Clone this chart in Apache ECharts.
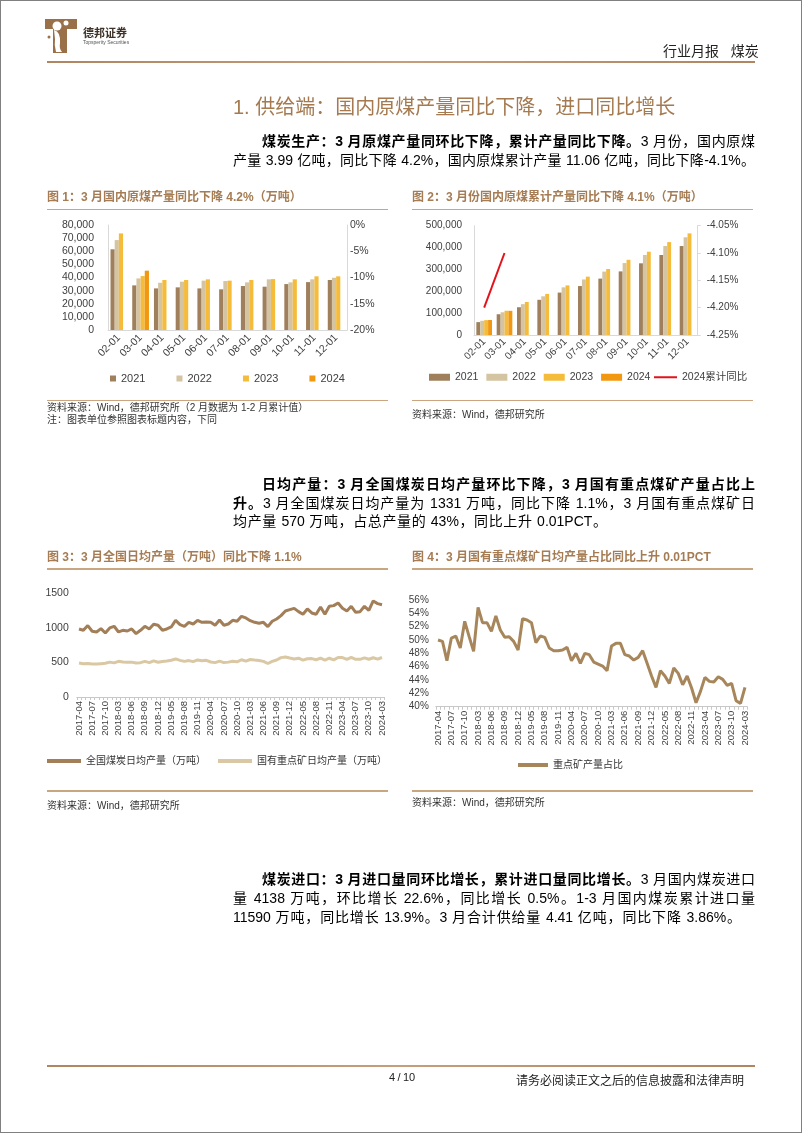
<!DOCTYPE html>
<html><head><meta charset="utf-8">
<script src="https://cdn.jsdelivr.net/npm/echarts@6/dist/echarts.min.js"></script>
<style>
html,body{margin:0;padding:0;background:#fff;}
body{width:802px;height:1133px;position:relative;overflow:hidden;font-family:"Liberation Sans","Noto Sans CJK SC",sans-serif;color:#000;}
#frame{position:absolute;left:0;top:0;width:800px;height:1131px;border:1px solid #808080;}
#chart{position:absolute;left:0;top:0;width:802px;height:1133px;}
.t{position:absolute;white-space:nowrap;}
.hl{position:absolute;height:2.5px;background:linear-gradient(90deg,#B08561,#C59F7C 50%,#B08561);}
.sep{position:absolute;height:1.5px;background:#C9A580;}
.ct{position:absolute;white-space:nowrap;font-size:12px;font-weight:bold;color:#A57C53;line-height:14px;}
.src{position:absolute;white-space:nowrap;font-size:10px;color:#333;line-height:12px;}
.p{position:absolute;font-size:14px;line-height:19px;height:19px;overflow:visible;text-align:justify;text-align-last:justify;white-space:normal;}
</style></head>
<body>
<div id="frame"></div>
<div id="chart"></div>

<svg class="t" style="left:44px;top:17px" width="34" height="37" viewBox="0 0 34 37">
  <path d="M1 2 H33 V12 H23 V36 H9 V12 H1 Z" fill="#9A7049"/>
  <circle cx="13" cy="9" r="4.5" fill="#fff"/>
  <path d="M10 13 Q17 15 16 26 Q15 32 18 35 L12 35 Q10 28 11 22 Z" fill="#fff"/>
  <circle cx="5" cy="20" r="1.5" fill="#9A7049"/>
  <circle cx="22" cy="6" r="2.5" fill="#fff"/>
</svg>
<div class="t" style="left:83px;top:24px;font-size:11px;font-weight:bold;color:#3d3128;">德邦证券</div>
<div class="t" style="left:83px;top:39px;font-size:5px;color:#555;">Topsperity Securities</div>
<div class="t" style="left:663px;top:40px;font-size:14px;color:#222;">行业月报&nbsp;&nbsp;&nbsp;煤炭</div>
<div class="hl" style="left:47px;top:60.5px;width:708px;"></div>

<div class="t" style="left:233px;top:95px;font-size:20px;color:#A57A50;line-height:24px;">1. 供给端：国内原煤产量同比下降，进口同比增长</div>

<div class="p" style="left:262px;top:131.5px;width:493px;"><b>煤炭生产：3 月原煤产量同环比下降，累计产量同比下降。</b>3 月份，国内原煤</div>
<div class="p" style="left:233px;top:150.5px;width:522px;">产量 3.99 亿吨，同比下降 4.2%，国内原煤累计产量 11.06 亿吨，同比下降-4.1%。</div>

<div class="ct" style="left:47px;top:190px;">图 1：3 月国内原煤产量同比下降 4.2%（万吨）</div>
<div class="sep" style="left:47px;top:208.5px;width:341px;"></div>
<div class="ct" style="left:412px;top:190px;">图 2：3 月份国内原煤累计产量同比下降 4.1%（万吨）</div>
<div class="sep" style="left:412px;top:208.5px;width:341px;"></div>
<div class="sep" style="left:47px;top:399.5px;width:341px;"></div>
<div class="sep" style="left:412px;top:399.5px;width:341px;"></div>
<div class="src" style="left:47px;top:402px;">资料来源：Wind，德邦研究所（2 月数据为 1-2 月累计值）</div>
<div class="src" style="left:47px;top:414px;">注：图表单位参照图表标题内容，下同</div>
<div class="src" style="left:412px;top:409px;">资料来源：Wind，德邦研究所</div>

<div class="p" style="left:262px;top:474.5px;width:493px;"><b>日均产量：3 月全国煤炭日均产量环比下降，3 月国有重点煤矿产量占比上</b></div>
<div class="p" style="left:233px;top:493.5px;width:522px;"><b>升。</b>3 月全国煤炭日均产量为 1331 万吨，同比下降 1.1%，3 月国有重点煤矿日</div>
<div class="p" style="left:233px;top:512px;width:374px;">均产量 570 万吨，占总产量的 43%，同比上升 0.01PCT。</div>

<div class="ct" style="left:47px;top:550px;">图 3：3 月全国日均产量（万吨）同比下降 1.1%</div>
<div class="sep" style="left:47px;top:568px;width:341px;"></div>
<div class="ct" style="left:412px;top:550px;">图 4：3 月国有重点煤矿日均产量占比同比上升 0.01PCT</div>
<div class="sep" style="left:412px;top:568px;width:341px;"></div>
<div class="sep" style="left:47px;top:790px;width:341px;"></div>
<div class="sep" style="left:412px;top:790px;width:341px;"></div>
<div class="src" style="left:47px;top:800px;">资料来源：Wind，德邦研究所</div>
<div class="src" style="left:412px;top:797px;">资料来源：Wind，德邦研究所</div>

<div class="p" style="left:262px;top:869.5px;width:493px;"><b>煤炭进口：3 月进口量同环比增长，累计进口量同比增长。</b>3 月国内煤炭进口</div>
<div class="p" style="left:233px;top:888.5px;width:522px;">量 4138 万吨，环比增长 22.6%，同比增长 0.5%。1-3 月国内煤炭累计进口量</div>
<div class="p" style="left:233px;top:907.5px;width:508px;">11590 万吨，同比增长 13.9%。3 月合计供给量 4.41 亿吨，同比下降 3.86%。</div>

<div class="hl" style="left:47px;top:1064.5px;width:708px;"></div>
<div class="t" style="left:389px;top:1071px;font-size:11px;color:#222;letter-spacing:-0.3px;">4 / 10</div>
<div class="t" style="left:516px;top:1071px;font-size:12px;color:#222;">请务必阅读正文之后的信息披露和法律声明</div>

<script>
// ---------- data ----------
const months = ['02-01','03-01','04-01','05-01','06-01','07-01','08-01','09-01','10-01','11-01','12-01'];
const prod2021 = [61500, 34000, 31700, 32500, 31700, 31000, 33500, 33000, 35000, 36500, 38100];
const prod2022 = [68500, 39300, 36000, 36800, 37600, 37300, 36300, 38600, 36300, 38600, 39800];
const prod2023 = [73600, 41100, 38100, 38100, 38600, 37600, 38100, 38800, 38600, 40900, 40900];
const prod2024 = [null, 45200, null, null, null, null, null, null, null, null, null];

const cum2021 = [59000, 95000, 127000, 161000, 194000, 224000, 258000, 291000, 328000, 366000, 407000];
const cum2022 = [65000, 104000, 141000, 177000, 218000, 254000, 290000, 329000, 366000, 407000, 447000];
const cum2023 = [68000, 111000, 151000, 188000, 227000, 267000, 302000, 344000, 381000, 425000, 465000];
const cum2024 = [68500, 110600, null, null, null, null, null, null, null, null, null];
const cumYoy2024 = [-4.20, -4.10, null, null, null, null, null, null, null, null, null];

const dailyMonths = [
 '2017-04','2017-05','2017-06','2017-07','2017-08','2017-09','2017-10','2017-11','2017-12',
 '2018-03','2018-04','2018-05','2018-06','2018-07','2018-08','2018-09','2018-10','2018-11','2018-12',
 '2019-03','2019-04','2019-05','2019-06','2019-07','2019-08','2019-09','2019-10','2019-11','2019-12',
 '2020-03','2020-04','2020-05','2020-06','2020-07','2020-08','2020-09','2020-10','2020-11','2020-12',
 '2021-03','2021-04','2021-05','2021-06','2021-07','2021-08','2021-09','2021-10','2021-11','2021-12',
 '2022-03','2022-04','2022-05','2022-06','2022-07','2022-08','2022-09','2022-10','2022-11','2022-12',
 '2023-03','2023-04','2023-05','2023-06','2023-07','2023-08','2023-09','2023-10','2023-11','2023-12',
 '2024-03'];
const dailyNational = [
 981,962,1030,948,938,986,923,996,1020,
 938,962,952,981,914,962,1020,981,1049,1034,
 962,981,1010,1106,1044,1020,1077,1053,1106,1077,
 1082,1077,1034,1111,1034,1053,1106,1092,1164,1140,
 1101,1077,1063,1077,1015,1092,1125,1174,1241,1260,
 1279,1231,1193,1270,1212,1193,1299,1193,1308,1318,
 1356,1279,1241,1308,1222,1231,1308,1250,1385,1347,
 1331];
const dailyStateOwned = [
 491,479,483,476,475,481,487,503,492,
 515,506,501,503,490,495,514,495,522,501,
 511,520,531,549,528,514,525,510,535,522,
 529,505,496,517,496,503,516,507,537,518,
 541,533,526,514,483,513,533,568,577,562,
 549,559,532,552,554,537,562,532,559,535,
 570,568,543,571,544,543,564,544,566,546,
 570];
const stateShare = [
 50.0,49.8,46.9,50.3,50.6,48.8,52.8,50.5,48.3,
 54.9,52.6,52.6,51.3,53.6,51.5,50.4,50.5,49.8,48.5,
 53.2,53.0,52.6,49.6,50.6,50.4,48.8,48.4,48.4,48.5,
 48.9,46.9,48.0,46.5,48.0,47.8,46.7,46.4,46.1,45.4,
 49.1,49.5,49.5,47.8,47.6,47.0,47.4,48.4,46.5,44.6,
 42.9,45.4,44.6,43.5,45.8,45.0,43.3,44.6,42.8,40.6,
 42.3,44.4,43.8,43.7,44.5,44.1,43.2,43.5,40.9,40.5,
 42.9];

// ---------- styles ----------
const FONT = '"Liberation Sans","Noto Sans CJK SC",sans-serif';
const C21 = '#A0805C', C22 = '#D4C4A2', C23 = '#F5BC3C', C24 = '#F29710';
const LINE_RED = '#E3131B';
const NAT = '#A27F58', SOE = '#D9C8A3', SHARE = '#A8865B';
const AX = '#D9D9D9', LBL = '#404040';

function barSeries(name, data, color, xi, yi) {
  return {name, type:'bar', data, xAxisIndex:xi, yAxisIndex:yi, barGap:'0%', barCategoryGap:'23%',
    itemStyle:{color}};
}
const noSplit = {show:false};

const option = {
  animation:false,
  textStyle:{fontFamily:FONT},
  grid:[
    {left:108, top:225, width:239, height:105, outerBoundsMode:'none'},
    {left:474, top:225.7, width:223.7, height:109.3, outerBoundsMode:'none'},
    {left:76.8, top:593, width:307.4, height:104, outerBoundsMode:'none'},
    {left:435.8, top:600, width:311.4, height:106.7, outerBoundsMode:'none'}
  ],
  xAxis:[
    {gridIndex:0, type:'category', data:months, axisLine:{lineStyle:{color:AX}}, axisTick:{show:false},
     axisLabel:{rotate:45, interval:0, fontSize:10.5, color:LBL, margin:6}},
    {gridIndex:1, type:'category', data:months, axisLine:{lineStyle:{color:AX}}, axisTick:{show:false},
     axisLabel:{rotate:45, interval:0, fontSize:10, color:LBL, margin:5}},
    {gridIndex:2, type:'category', data:dailyMonths, boundaryGap:true, axisLine:{lineStyle:{color:'#C8C8C8'}},
     axisTick:{show:true, interval:0, length:3, lineStyle:{color:'#C8C8C8'}},
     axisLabel:{rotate:90, interval:2, fontSize:9.5, color:LBL, margin:4}},
    {gridIndex:3, type:'category', data:dailyMonths, boundaryGap:true, axisLine:{lineStyle:{color:'#C8C8C8'}},
     axisTick:{show:true, interval:0, length:3, lineStyle:{color:'#C8C8C8'}},
     axisLabel:{rotate:90, interval:2, fontSize:9.5, color:LBL, margin:4}}
  ],
  yAxis:[
    {gridIndex:0, type:'value', min:0, max:80000, interval:10000, splitLine:noSplit,
     axisLine:{show:true, lineStyle:{color:AX}}, axisTick:{show:false},
     axisLabel:{fontSize:10.5, color:LBL, margin:14, formatter:v=>v.toLocaleString('en-US')}},
    {gridIndex:0, type:'value', position:'right', min:-20, max:0, interval:5, splitLine:noSplit,
     axisLine:{show:true, lineStyle:{color:AX}}, axisTick:{show:false},
     axisLabel:{fontSize:10.5, color:LBL, margin:3, formatter:v=>v+'%'}},
    {gridIndex:1, type:'value', min:0, max:500000, interval:100000, splitLine:noSplit,
     axisLine:{show:true, lineStyle:{color:AX}}, axisTick:{show:false},
     axisLabel:{fontSize:10, color:LBL, margin:12, formatter:v=>v.toLocaleString('en-US')}},
    {gridIndex:1, type:'value', position:'right', min:-4.25, max:-4.05, interval:0.05, splitLine:noSplit,
     axisLine:{show:true, lineStyle:{color:AX}}, axisTick:{show:true, length:3, lineStyle:{color:AX}},
     axisLabel:{fontSize:10, color:LBL, margin:9, formatter:v=>v.toFixed(2)+'%'}},
    {gridIndex:2, type:'value', min:0, max:1500, interval:500, splitLine:noSplit,
     axisLine:{show:false}, axisTick:{show:false},
     axisLabel:{fontSize:10.5, color:LBL, margin:8, formatter:v=>String(v)}},
    {gridIndex:3, type:'value', min:40, max:56, interval:2, splitLine:noSplit,
     axisLine:{show:false}, axisTick:{show:false},
     axisLabel:{fontSize:10, color:LBL, margin:7, formatter:v=>v+'%'}}
  ],
  legend:[
    {data:['2021','2022','2023','2024'], left:110, top:373, padding:0, icon:'rect',
     itemWidth:6, itemHeight:6, itemGap:31, textStyle:{fontSize:11, color:LBL}, selectedMode:false},
    {data:['2021','2022','2023','2024'], left:429, top:372, padding:0, icon:'rect',
     itemWidth:21, itemHeight:7, itemGap:8, textStyle:{fontSize:10.5, color:LBL}, selectedMode:false},
    {data:['2024累计同比'], left:654, top:372, padding:0, icon:'rect',
     itemWidth:23, itemHeight:2, textStyle:{fontSize:10.5, color:LBL}, selectedMode:false},
    {data:['全国煤炭日均产量（万吨）','国有重点矿日均产量（万吨）'], left:47, top:756, padding:0, icon:'rect',
     itemWidth:34, itemHeight:4, itemGap:12, textStyle:{fontSize:10, color:'#333'}, selectedMode:false},
    {data:['重点矿产量占比'], left:518, top:760, padding:0, icon:'rect', itemWidth:30, itemHeight:4,
     textStyle:{fontSize:10, color:'#333'}, selectedMode:false}
  ],
  series:[
    barSeries('2021', prod2021, C21, 0, 0),
    barSeries('2022', prod2022, C22, 0, 0),
    barSeries('2023', prod2023, C23, 0, 0),
    barSeries('2024', prod2024, C24, 0, 0),
    barSeries('2021', cum2021, C21, 1, 2),
    barSeries('2022', cum2022, C22, 1, 2),
    barSeries('2023', cum2023, C23, 1, 2),
    barSeries('2024', cum2024, C24, 1, 2),
    {name:'2024累计同比', type:'line', data:cumYoy2024, xAxisIndex:1, yAxisIndex:3, symbol:'none',
     lineStyle:{color:LINE_RED, width:2}, itemStyle:{color:LINE_RED}},
    {name:'全国煤炭日均产量（万吨）', type:'line', data:dailyNational, xAxisIndex:2, yAxisIndex:4, symbol:'none',
     lineStyle:{color:NAT, width:3}, itemStyle:{color:NAT}},
    {name:'国有重点矿日均产量（万吨）', type:'line', data:dailyStateOwned, xAxisIndex:2, yAxisIndex:4, symbol:'none',
     lineStyle:{color:SOE, width:3}, itemStyle:{color:SOE}},
    {name:'重点矿产量占比', type:'line', data:stateShare, xAxisIndex:3, yAxisIndex:5, symbol:'none',
     lineStyle:{color:SHARE, width:3}, itemStyle:{color:SHARE}}
  ]
};
const chart = echarts.init(document.getElementById('chart'), null, {renderer:'canvas'});
chart.setOption(option);
</script>
</body></html>
